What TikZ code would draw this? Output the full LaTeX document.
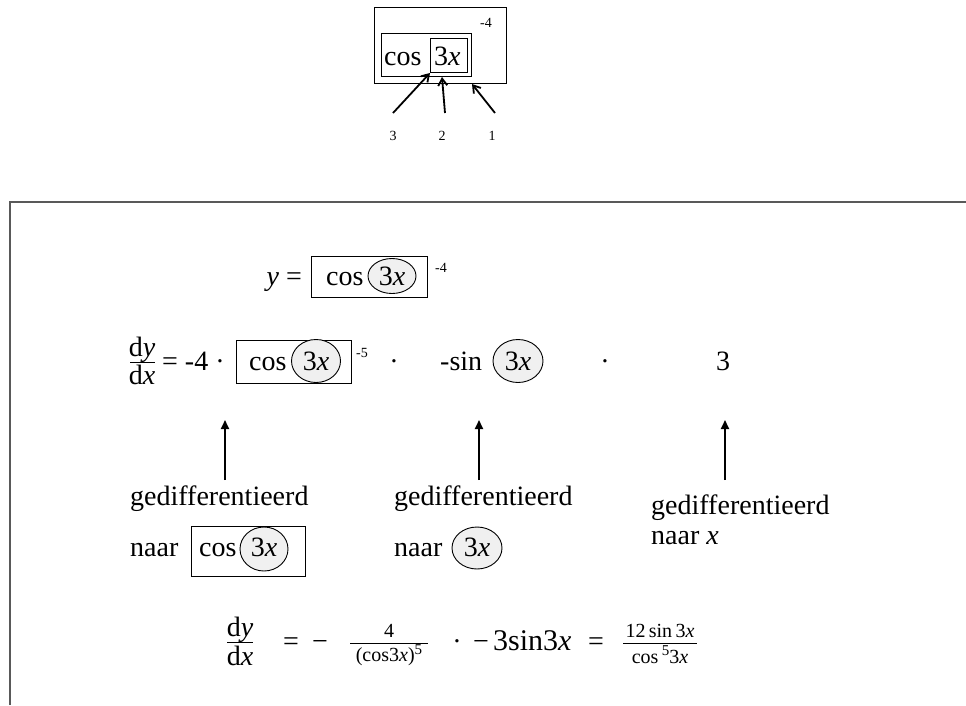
\documentclass[tikz,border=0pt]{standalone}
\usepackage{fontspec}
\setmainfont{Liberation Serif}
\usetikzlibrary{arrows.meta,shapes.geometric}
\tikzset{
  txt/.style={font=\fontsize{28}{30}\selectfont, inner sep=0pt},
  sm/.style={font=\fontsize{14}{15}\selectfont, inner sep=0pt},
  fs/.style={font=\fontsize{20}{22}\selectfont, inner sep=0pt},
  boxed/.style={draw, line width=1pt},
  bub/.style={draw, ellipse, fill=black!6, line width=0.9pt, inner sep=0pt},
  openarr/.style={-{Straight Barb[length=7pt,width=9pt]}, line width=1.8pt},
  fillarr/.style={-{Triangle[length=9pt,width=8pt]}, line width=1.8pt},
  frame/.style={draw=black!65, line width=2pt},
  fbar/.style={line width=0.9pt}
}
\begin{document}
\begin{tikzpicture}[x=1pt,y=-1pt]
\useasboundingbox (0,0) rectangle (966,705);

% ---------- top diagram ----------
\draw[boxed] (374,7) rectangle (506,83);
\draw[boxed] (381,33) rectangle (471,76);
\draw[boxed] (430,38) rectangle (467,72);
\node[txt, anchor=base west] (tcos) at (384,65) {cos};
\node[txt, anchor=base west] (t3x) at (434,65) {3\textit{x}};
\node[sm, anchor=mid] (tm4) at (486,25) {-4};
\node[sm, anchor=base] (l3) at (393,140) {3};
\node[sm, anchor=base] (l2) at (442,140) {2};
\node[sm, anchor=base] (l1) at (492,140) {1};
\coordinate (s3) at (393,113);
\coordinate (s2) at (445,113);
\coordinate (s1) at (495,113);
\coordinate (e3) at (430,73);
\coordinate (e2) at (442,77);
\coordinate (e1) at (472,84);
\draw[openarr] (s3) -- (e3);
\draw[openarr] (s2) -- (e2);
\draw[openarr] (s1) -- (e1);

% ---------- frame ----------
\coordinate (f1) at (10,705);
\coordinate (f2) at (10,202);
\coordinate (f3) at (966,202);
\draw[frame] (f1) -- (f2) -- (f3);

% ---------- row 1 ----------
\node[txt, anchor=base east] (y1) at (302,285) {\textit{y} =};
\draw[boxed] (311,256) rectangle (427,297);
\node[txt, anchor=base west] (cos1) at (326,285) {cos};
\node[bub, minimum width=48pt, minimum height=35pt] (b1) at (392,276) {};
\node[txt, anchor=base] (x1) at (392,285) {3\textit{x}};
\node[sm, anchor=mid] (p1) at (441,270) {-4};

% ---------- row 2 ----------
\node[txt, anchor=base] (n2) at (142,356) {d\textit{y}};
\node[txt, anchor=base] (d2) at (142,384) {d\textit{x}};
\coordinate (fb2a) at (130,362);
\coordinate (fb2b) at (155,362);
\draw[fbar] (fb2a) -- (fb2b);
\node[txt, anchor=base west] (eq2) at (162,370) {= -4 ·};
\draw[boxed] (236,340) rectangle (351,383);
\node[txt, anchor=base west] (cos2) at (249,370) {cos};
\node[bub, minimum width=49pt, minimum height=43pt] (b2) at (316,361) {};
\node[txt, anchor=base] (x2) at (316,370) {3\textit{x}};
\node[sm, anchor=mid] (p2) at (362,355) {-5};
\node[txt, anchor=base] (dot2a) at (394,370) {·};
\node[txt, anchor=base west] (sin2) at (440,370) {-sin};
\node[bub, minimum width=50pt, minimum height=43pt] (b3) at (518,361) {};
\node[txt, anchor=base] (x3) at (518,370) {3\textit{x}};
\node[txt, anchor=base] (dot2b) at (605,370) {·};
\node[txt, anchor=base] (three) at (723,370) {3};

% ---------- arrows ----------
\coordinate (a1s) at (225,480); \coordinate (a1e) at (225,420);
\coordinate (a2s) at (479,480); \coordinate (a2e) at (479,420);
\coordinate (a3s) at (725,480); \coordinate (a3e) at (725,420);
\draw[fillarr] (a1s) -- (a1e);
\draw[fillarr] (a2s) -- (a2e);
\draw[fillarr] (a3s) -- (a3e);

% ---------- row 3 ----------
\node[txt, anchor=base west] (g1) at (130,505) {gedifferentieerd};
\node[txt, anchor=base west] (naar1) at (130,556) {naar};
\draw[boxed] (191,526) rectangle (305,576);
\node[txt, anchor=base west] (cos3) at (199,556) {cos};
\node[bub, minimum width=48pt, minimum height=44pt] (b4) at (264,549) {};
\node[txt, anchor=base] (x4) at (264,556) {3\textit{x}};

\node[txt, anchor=base west] (g2) at (394,505) {gedifferentieerd};
\node[txt, anchor=base west] (naar2) at (394,556) {naar};
\node[bub, minimum width=50pt, minimum height=42pt] (b5) at (477,548) {};
\node[txt, anchor=base] (x5) at (477,556) {3\textit{x}};

\node[txt, anchor=base west] (g3) at (651,514) {gedifferentieerd};
\node[txt, anchor=base west] (naar3) at (651,544) {naar \textit{x}};

% ---------- row 4 ----------
\node[txt, anchor=base] (n4) at (240,636) {d\textit{y}};
\node[txt, anchor=base] (d4) at (240,665) {d\textit{x}};
\coordinate (fb4a) at (227,642);
\coordinate (fb4b) at (253,642);
\draw[fbar] (fb4a) -- (fb4b);
\node[txt, anchor=base] (eq4) at (291,650) {=};
\node[txt, anchor=base] (mi4) at (320,650) {−};
\node[fs, anchor=base] (n5) at (389,637) {4};
\node[fs, anchor=base] (d5) at (389,661) {(cos3\textit{x})\raisebox{7pt}{\fontsize{15}{16}\selectfont 5}};
\coordinate (fb5a) at (350,643);
\coordinate (fb5b) at (428,643);
\draw[fbar] (fb5a) -- (fb5b);
\node[txt, anchor=base] (dot4) at (457,650) {·};
\node[txt, anchor=base] (mi4b) at (481,650) {−};
\node[txt, anchor=base west, font=\fontsize{30}{32}\selectfont] (sin4) at (493,650) {3sin3\textit{x}};
\node[txt, anchor=base] (eq4b) at (596,650) {=};
\node[fs, anchor=base] (n6) at (660,637) {12\,sin\,3\textit{x}};
\node[fs, anchor=base] (d6) at (660,663) {cos\,\raisebox{8pt}{\fontsize{15}{16}\selectfont 5}3\textit{x}};
\coordinate (fb6a) at (623,643);
\coordinate (fb6b) at (697,643);
\draw[fbar] (fb6a) -- (fb6b);
\end{tikzpicture}
\end{document}
